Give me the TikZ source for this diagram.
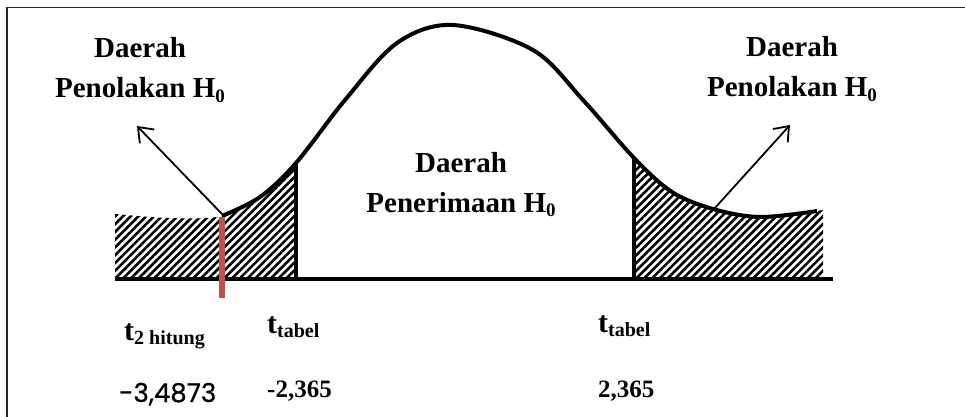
\documentclass[tikz,border=0pt]{standalone}
\usepackage{fontspec}
\setmainfont{Liberation Serif}
\newfontfamily\popfont[FakeBold=0.8]{Poppins}
\usetikzlibrary{patterns.meta,arrows.meta}
\definecolor{redline}{RGB}{192,80,77}
\newcommand{\lowsub}[1]{\raisebox{-4pt}{\fontsize{20}{20}\selectfont #1}}
\newcommand{\hsub}[1]{\raisebox{-4.5pt}{\fontsize{19}{19}\selectfont #1}}
\begin{document}
\begin{tikzpicture}[x=1pt,y=-1pt,
  lbl/.style={font=\bfseries\fontsize{29}{40}\selectfont, align=center, anchor=base, inner sep=0pt},
  tlbl/.style={font=\bfseries\fontsize{30}{30}\selectfont, anchor=base west, inner sep=0pt},
  numlbl/.style={font=\bfseries\fontsize{25}{25}\selectfont, anchor=base west, inner sep=0pt},
  thick line/.style={line width=4pt},
  arr/.style={line width=1.8pt, -{Straight Barb[length=13pt,width=20pt,line width=1.8pt]}},
  hatch/.style={pattern={Lines[angle=45,distance=5.5pt,line width=2.6pt]}, pattern color=black}]
\useasboundingbox (0,0) rectangle (965,417);
% frame
\draw[line width=1.5pt, black!85] (7,417) -- (7,7.5) -- (965,7.5);
% hatched tails
\begin{scope}
  \clip (115,0) rectangle (296,279) (634,0) rectangle (823,279);
  \fill[hatch] plot[smooth, tension=0.55] coordinates {(115,214) (170,218) (222,216) (260,197) (296,163) (345,100) (397,43) (453,25) (533,50) (583,100) (634,158) (672,192) (713,209) (760,217) (823,210)} -- (823,279) -- (115,279) -- cycle;
\end{scope}
% bell curve
\draw[thick line, line join=round] plot[smooth, tension=0.55] coordinates {(222,216) (260,197) (296,163) (345,100) (397,43) (453,25) (533,50) (583,100) (634,158) (672,192) (713,209) (760,217) (817,211)};
% axis and critical lines
\coordinate (axL) at (115,279);
\coordinate (axR) at (833,279);
\draw[thick line] (axL) -- (axR);
\coordinate (critLtop) at (296,164);
\coordinate (critLbot) at (296,279);
\coordinate (critRtop) at (634,159);
\coordinate (critRbot) at (634,279);
\draw[thick line] (critLtop) -- (critLbot);
\draw[thick line] (critRtop) -- (critRbot);
% red t hitung line
\coordinate (redtop) at (222,217);
\coordinate (redbot) at (222,298);
\draw[line width=6pt, redline] (redtop) -- (redbot);
% arrows
\coordinate (lfoot) at (222,214);
\coordinate (ltip) at (137,126);
\coordinate (rfoot) at (714,209);
\coordinate (rtip) at (790,125);
\draw[arr] (lfoot) -- (ltip);
\draw[arr] (rfoot) -- (rtip);
% labels
\node[lbl] (lefttxt) at (140,98) {Daerah\\Penolakan H\hsub{0}};
\node[lbl] (righttxt) at (792,97) {Daerah\\Penolakan H\hsub{0}};
\node[lbl] (midtxt) at (461,212) {Daerah\\Penerimaan H\hsub{0}};
\node[tlbl] (thit) at (124,340) {t\lowsub{2 hitung}};
\node[tlbl] (ttabL) at (267,333) {t\lowsub{tabel}};
\node[tlbl] (ttabR) at (598,332) {t\lowsub{tabel}};
\node[anchor=base west, inner sep=0pt, font=\popfont\fontsize{26}{26}\selectfont] (nhit) at (119,402) {-3,4873};
\node[numlbl] (nL) at (267,397) {-2,365};
\node[numlbl] (nR) at (598,397) {2,365};
\end{tikzpicture}
\end{document}
